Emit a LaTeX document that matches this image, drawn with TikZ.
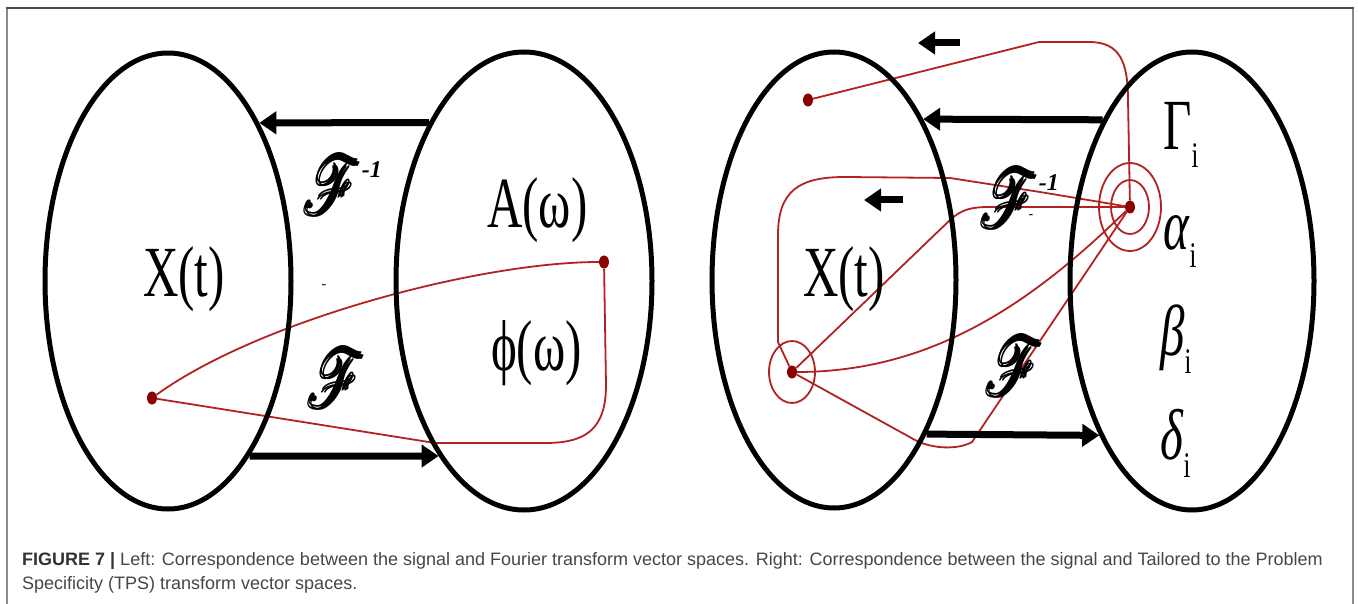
\documentclass[tikz,border=0pt]{standalone}
\usepackage{amsmath}
\usepackage{mathrsfs}
\usepackage{graphicx}
\usepackage{fontspec}
\setmainfont{Liberation Serif}
\setsansfont{Liberation Sans}
\usetikzlibrary{arrows.meta, shapes.geometric, positioning}
\usepackage{xcolor}
\definecolor{wire}{RGB}{178,34,34}
\definecolor{blob}{RGB}{139,0,0}
\definecolor{capgray}{RGB}{70,70,70}
\newcommand{\sq}[1]{\scalebox{0.68}[1]{#1}}
\newcommand{\lowi}{\raisebox{-18pt}{\fontsize{36}{36}\selectfont i}}
\newcommand{\sF}{\sq{\resizebox{!}{60pt}{$\pmb{\mathscr{F}}$}}}
\newcommand{\inv}{\raisebox{38pt}{\fontsize{24}{24}\selectfont\bfseries\itshape -1}}

\begin{document}
\begin{tikzpicture}[x=1pt, y=-1pt,
  set/.style={draw, ellipse, line width=5pt, inner sep=0pt},
  dot/.style={ellipse, fill=blob, inner sep=0pt, minimum width=10pt, minimum height=13pt},
  wire/.style={draw=wire, line width=1.8pt, line join=round},
  bigarrow/.style={line width=7pt, -{Triangle[length=17pt, width=22pt]}},
  lab/.style={inner sep=0pt, font=\fontsize{72}{72}\selectfont},
  captext/.style={inner sep=0pt, anchor=base west, text=capgray, font=\sffamily\fontsize{18}{18}\selectfont}]
  \useasboundingbox (0,0) rectangle (1358,604);

  % frame
  \draw[gray!90, line width=2pt] (7,604) -- (7,8);
  \draw[gray!90, line width=2pt] (1353,604) -- (1353,8);
  \draw[black!70, line width=2pt] (6,8) -- (1354,8);

  % left panel: red loop
  \node[dot] (sigA) at (152,398) {};
  \node[dot] (ampA) at (604,262) {};
  \draw[wire] (sigA) .. controls (260,320) and (480,262) .. (ampA)
    -- (606,385) .. controls (606,430) and (585,443) .. (545,443) -- (435,443) -- (sigA);

  % right panel: red links
  \node[dot] (hubS) at (792,372) {};
  \node[dot] (hubT) at (1130,207) {};
  \node[dot] (topS) at (808,100) {};
  \draw[wire] (hubS) ellipse [x radius=23, y radius=31];
  \draw[wire] (hubT) ellipse [x radius=19, y radius=27];
  \draw[wire] (hubT) ellipse [x radius=31, y radius=44];
  \draw[wire] (topS) -- (1039,42) -- (1089,42) .. controls (1120,42) and (1128,62) .. (1128,100) -- (hubT);
  \draw[wire] (hubS) -- (778,342) -- (778,235) .. controls (778,190) and (800,177) .. (845,177)
    -- (950,178) -- (1040,192) -- (hubT);
  \draw[wire] (hubS) -- (950,220) .. controls (962,209) and (972,207) .. (990,207) -- (hubT);
  \draw[wire] (hubS) .. controls (930,372) and (1030,305) .. (hubT);
  \draw[wire] (hubS) -- (915,440) .. controls (932,449) and (958,450) .. (972,442) -- (hubT);

  % vector spaces
  \node[set, minimum width=246pt, minimum height=456pt] (sigL) at (168,281) {};
  \node[set, minimum width=256pt, minimum height=458pt] (fouL) at (524,281) {};
  \node[set, minimum width=244pt, minimum height=456pt] (sigR) at (834,280) {};
  \node[set, minimum width=244pt, minimum height=458pt] (tpsR) at (1192,281) {};

  % transforms
  \draw[bigarrow] (fouL.121) -- (sigL.60);
  \draw[bigarrow] (sigL.-65) -- (fouL.244);
  \draw[bigarrow] (tpsR.119) -- (sigR.61);
  \draw[bigarrow] (sigR.-59) -- (tpsR.239);
  \coordinate (upA) at (960,43);
  \coordinate (upB) at (918,43);
  \coordinate (midA) at (903,200);
  \coordinate (midB) at (864,200);
  \draw[bigarrow] (upA) -- (upB);
  \draw[bigarrow] (midA) -- (midB);

  % labels
  \node[lab, anchor=base west] (xL) at (143,297) {\sq{X(t)}};
  \node[lab, anchor=base west] (aL) at (487,228) {\sq{A(ω)}};
  \node[lab, anchor=base west] (phL) at (491,370) {\sq{ϕ(ω)}};
  \node[lab] (finvL) at (343,185) {\sF\inv};
  \node[lab] (fL) at (337,378) {\sF};
  \node[inner sep=0pt, font=\fontsize{14}{14}\selectfont] (dashL) at (324,287) {-};

  \node[lab, anchor=base west] (xR) at (803,297) {\sq{X(t)}};
  \node[lab, anchor=base west] (gamR) at (1163,150) {\sq{Γ\lowi}};
  \node[lab, anchor=base west] (alR) at (1163,250) {\sq{\textit{α}\lowi}};
  \node[lab, anchor=base west] (beR) at (1160,355) {\sq{\textit{β}\lowi}};
  \node[lab, anchor=base west] (deR) at (1160,459) {\sq{\textit{δ}\lowi}};
  \node[lab] (finvR) at (1020,198) {\sF\inv};
  \node[lab] (fR) at (1015,366) {\sF};
  \node[inner sep=0pt, font=\fontsize{14}{14}\selectfont] (dashR) at (1031,217) {-};

  % caption
  \node[captext] (capA) at (22,565) {\textbf{\color{black!80}FIGURE 7 |} Left: Correspondence between the signal and Fourier transform vector spaces. Right: Correspondence between the signal and Tailored to the Problem};
  \node[captext] (capB) at (22,589) {Specificity (TPS) transform vector spaces.};
\end{tikzpicture}
\end{document}
